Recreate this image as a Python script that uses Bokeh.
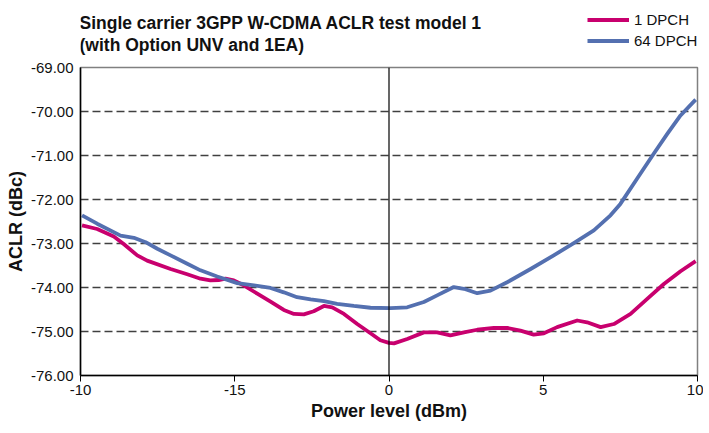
from bokeh.plotting import figure
from bokeh.models import Legend, LegendItem, Span, FixedTicker, Range1d, Label
from bokeh.layouts import column
from bokeh.embed import file_html
from bokeh.resources import INLINE

# Data
x_1dpch = [-9.95, -9.46, -8.92, -8.60, -8.16, -7.84, -7.08, -6.54, -6.11, -5.79, -5.52, -5.30,
           -5.03, -4.71, -4.27, -3.84, -3.41, -3.08, -2.76, -2.44, -2.11, -1.84, -1.46, -1.03,
           -0.60, -0.28, 0.00, 0.16, 0.59, 1.13, 1.56, 1.99, 2.43, 2.86, 3.40, 3.83, 4.26,
           4.69, 5.02, 5.45, 6.10, 6.42, 6.86, 7.29, 7.83, 8.37, 8.91, 9.45, 9.94]
y_1dpch = [-72.59, -72.67, -72.84, -73.01, -73.27, -73.39, -73.58, -73.70, -73.80, -73.84,
           -73.83, -73.80, -73.84, -73.95, -74.14, -74.32, -74.51, -74.60, -74.61, -74.54,
           -74.42, -74.45, -74.60, -74.83, -75.04, -75.20, -75.26, -75.27, -75.17, -75.02,
           -75.02, -75.09, -75.02, -74.96, -74.92, -74.92, -74.98, -75.07, -75.04, -74.90,
           -74.75, -74.79, -74.90, -74.83, -74.60, -74.26, -73.92, -73.63, -73.40]

x_64dpch = [-9.95, -9.46, -8.70, -8.27, -7.89, -7.51, -7.08, -6.54, -6.11, -5.57, -4.92, -4.38,
            -3.84, -3.41, -2.98, -2.54, -2.11, -1.68, -1.14, -0.60, 0.05, 0.59, 1.13, 1.56,
            2.10, 2.43, 2.86, 3.29, 3.83, 4.59, 5.34, 5.99, 6.64, 7.18, 7.50, 8.04, 8.58,
            9.02, 9.45, 9.94]
y_64dpch = [-72.36, -72.55, -72.82, -72.87, -72.97, -73.12, -73.27, -73.46, -73.61, -73.75,
            -73.90, -73.95, -74.01, -74.11, -74.22, -74.27, -74.31, -74.37, -74.42, -74.46,
            -74.47, -74.45, -74.33, -74.18, -73.99, -74.03, -74.13, -74.07, -73.88, -73.58,
            -73.27, -72.99, -72.70, -72.36, -72.10, -71.53, -70.96, -70.51, -70.09, -69.73]

x_ticks = [-10, -5, 0, 5, 10]
x_tick_labels = ["-10", "-15", "0", "5", "10"]
y_ticks = [-76, -75, -74, -73, -72, -71, -70, -69]
y_grid = [-75, -74, -73, -72, -71, -70]

title_lines = ["Single carrier 3GPP W-CDMA ACLR test model 1", "(with Option UNV and 1EA)"]
series_names = ["1 DPCH", "64 DPCH"]
MAGENTA = "#C8006E"
BLUE = "#5470B0"
FONT = "Liberation Sans"
TXT = "#111111"
W = 703
TOP_H = 59
LEFT, RIGHT = 80, 6
NAN = float("nan")

# ---- header strip: title and legend (its frame is aligned with the chart's) ----
top = figure(width=W, height=TOP_H, output_backend="svg", toolbar_location=None,
             x_axis_type=None, y_axis_type=None,
             x_range=Range1d(LEFT, W - RIGHT), y_range=Range1d(TOP_H, 0),
             min_border_left=LEFT, min_border_right=RIGHT,
             min_border_top=0, min_border_bottom=0)
top.outline_line_color = None
top.background_fill_color = "white"
top.border_fill_color = "white"
for i, line in enumerate(title_lines):
    top.add_layout(Label(x=LEFT - 1, y=22.5 + 21.5 * i, text=line, text_font=FONT,
                         text_font_style="bold", text_font_size="17.5px",
                         text_color=TXT, text_baseline="alphabetic"))
# legend proxies (no visible data of their own)
k1 = top.line([NAN], [NAN], line_color=MAGENTA, line_width=4)
k2 = top.line([NAN], [NAN], line_color=BLUE, line_width=4)
legend = Legend(items=[LegendItem(label=series_names[0], renderers=[k1]),
                       LegendItem(label=series_names[1], renderers=[k2])],
                location=(507, 8), orientation="vertical",
                glyph_width=42, glyph_height=21, label_height=21, label_standoff=5,
                spacing=0, padding=0, margin=0,
                border_line_color=None, background_fill_alpha=0,
                label_text_font=FONT, label_text_font_size="15px",
                label_text_color=TXT)
top.add_layout(legend, "center")

# ---- main chart ----
p = figure(width=W, height=366, output_backend="svg", toolbar_location=None,
           x_range=Range1d(-10, 10), y_range=Range1d(-76, -69),
           min_border_left=LEFT, min_border_right=RIGHT, min_border_top=8, min_border_bottom=50)
p.background_fill_color = "white"
p.border_fill_color = "white"
p.outline_line_color = "#808080"
p.outline_line_width = 1.5

p.xgrid.visible = False
p.ygrid.ticker = FixedTicker(ticks=y_grid)
p.ygrid.grid_line_color = "#404040"
p.ygrid.grid_line_width = 1.5
p.ygrid.grid_line_dash = "8 4"

p.xaxis.ticker = FixedTicker(ticks=x_ticks)
p.xaxis.major_label_overrides = {t: s for t, s in zip(x_ticks, x_tick_labels)}
p.yaxis.ticker = FixedTicker(ticks=y_ticks)
p.yaxis.major_label_overrides = {t: "%.2f" % t for t in y_ticks}

for ax in (p.xaxis[0], p.yaxis[0]):
    ax.axis_line_color = "black"
    ax.axis_line_width = 1.5
    ax.major_label_text_font = FONT
    ax.major_label_text_font_size = "15px"
    ax.major_label_text_color = TXT
    ax.minor_tick_line_color = None
    ax.axis_label_text_font = FONT
    ax.axis_label_text_font_style = "bold"
    ax.axis_label_text_font_size = "18px"
    ax.axis_label_text_color = TXT

p.xaxis.major_tick_out = 6
p.xaxis.major_tick_in = 0
p.xaxis.major_tick_line_color = "black"
p.xaxis.major_label_standoff = 3
p.xaxis.axis_label = "Power level (dBm)"
p.xaxis.axis_label_standoff = 3
p.yaxis.major_tick_out = 0
p.yaxis.major_tick_in = 0
p.yaxis.major_label_standoff = 7
p.yaxis.axis_label = "ACLR (dBc)"
p.yaxis.axis_label_standoff = 2

p.add_layout(Span(location=0, dimension="height", line_color="black", line_width=1.2))

p.line(x_1dpch, y_1dpch, line_color=MAGENTA, line_width=3.8, line_join="round")
p.line(x_64dpch, y_64dpch, line_color=BLUE, line_width=3.8, line_join="round")

layout = column(top, p, spacing=0)
open("out.html", "w").write(file_html(layout, INLINE))
